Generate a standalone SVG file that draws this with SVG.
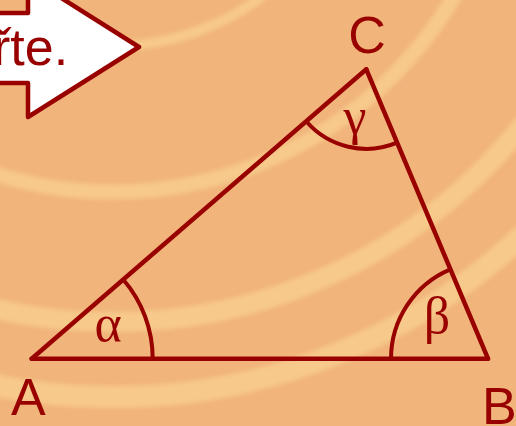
<svg xmlns="http://www.w3.org/2000/svg" width="516" height="426" viewBox="0 0 516 426">
  <defs>
    <filter id="soft" x="-10%" y="-10%" width="120%" height="120%">
      <feGaussianBlur stdDeviation="2"/>
    </filter>
  </defs>
  <style>
    .band { fill: none; stroke: #F7C98A; }
    .ln { fill: none; stroke: #990000; stroke-width: 4.5; stroke-linecap: round; stroke-linejoin: round; }
    .arc { fill: none; stroke: #990000; stroke-width: 4; }
    .lbl { font-family: "Liberation Sans", Arial, sans-serif; font-size: 52px; fill: #990000; }
    .grk { font-family: "Liberation Serif", "Times New Roman", serif; font-size: 52px; fill: #990000; text-anchor: middle; }
  </style>
  <rect width="516" height="426" fill="#F1B47B"/>
  <g id="background-bands" filter="url(#soft)">
    <circle class="band" cx="113" cy="-203" r="249" stroke-width="10"/>
    <circle class="band" cx="113" cy="-203" r="395" stroke-width="15"/>
    <circle class="band" cx="113" cy="-203" r="525" stroke-width="20"/>
    <circle class="band" cx="113" cy="-203" r="600" stroke-width="22"/>
  </g>
  <g id="arrow">
    <path d="M-10,13 L28,13 L28,-23 L139,47 L28,117 L28,83 L-10,83 Z" fill="#FFFFFF" stroke="#990000" stroke-width="4.5" stroke-linejoin="round"/>
    <text x="-7" y="65" font-family="'Liberation Sans', Arial, sans-serif" font-size="52" fill="#990000">řte.</text>
  </g>
  <g id="connectors">
    <path id="side-AB" class="ln" d="M31.7,358.7 L488,358.7"/>
    <path id="side-BC" class="ln" d="M488,358.7 L366.3,69.3"/>
    <path id="side-CA" class="ln" d="M366.3,69.3 L31.7,358.7"/>
  </g>
  <g id="angle-alpha">
    <path class="arc" d="M152.7,358.7 A121,121 0 0 0 123.2,279.5"/>
    <text class="grk" x="108" y="341">α</text>
  </g>
  <g id="angle-beta">
    <path class="arc" d="M391,358.7 A97,97 0 0 1 450.4,269.3"/>
    <text class="grk" x="437" y="333">β</text>
  </g>
  <g id="angle-gamma">
    <path class="arc" d="M306.2,121.3 A79.5,79.5 0 0 0 397.1,142.6"/>
    <text class="grk" x="355" y="134">γ</text>
  </g>
  <g id="node-A"><text class="lbl" x="11" y="415">A</text></g>
  <g id="node-B"><text class="lbl" x="482" y="423.5">B</text></g>
  <g id="node-C"><text class="lbl" x="367" y="52.5" text-anchor="middle">C</text></g>
</svg>
